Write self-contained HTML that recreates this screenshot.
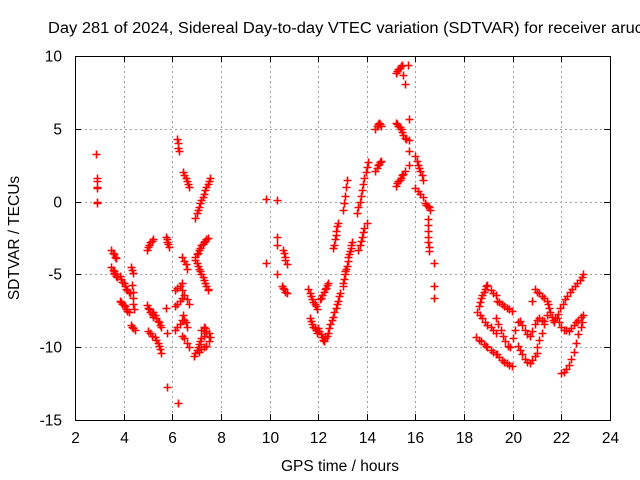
<!DOCTYPE html>
<html><head><meta charset="utf-8"><style>
body{margin:0;background:#fff}
svg{display:block;font-family:"Liberation Sans",sans-serif;font-size:15.5px}
</style></head><body>
<svg id="chart" width="640" height="480" viewBox="0 0 640 480">
<rect width="640" height="480" fill="#fff"/>
<text x="48" y="33" fill="#000" textLength="595" lengthAdjust="spacingAndGlyphs">Day 281 of 2024, Sidereal Day-to-day VTEC variation (SDTVAR) for receiver aruc</text>
<g id="grid"></g>
<g id="ticks"></g>
<g id="marks"></g>
<rect x="75.5" y="56.5" width="535" height="364" fill="none" stroke="#000"/>
<text x="340" y="471" text-anchor="middle">GPS time / hours</text>
<text transform="translate(19,238) rotate(-90)" text-anchor="middle">SDTVAR / TECUs</text>
</svg>
<script>
const xTicks=[2,4,6,8,10,12,14,16,18,20,22,24];
const yTicks=[10,5,0,-5,-10,-15];
const trackT=[
[2.88,2.9,2.9,2.92,2.9,2.92,2.9],
[3.5,3.55,3.6,3.65,3.7],
[3.5,3.55,3.6,3.62,3.65,3.7,3.72],
[3.85,3.9,3.95,4.0,4.05,4.1,4.15,4.2,4.25],
[4.3,4.35,4.4],
[4.35,4.38,4.4,4.4,4.42],
[3.85,3.9,3.95,4.0,4.05,4.1,4.15,4.2],
[4.3,4.35,4.4,4.45],
[4.95,5.0,5.05,5.1,5.15,5.2],
[5.75,5.78,5.8,5.82,5.85],
[4.95,5.0,5.05,5.1,5.15,5.2],
[5.2,5.3,5.35,5.4,5.45,5.5,5.55],
[5.0,5.1,5.15],
[5.3,5.35,5.4,5.45,5.5,5.55],
[5.75,5.8,5.8,6.25],
[6.2,6.22,6.25,6.28],
[6.45,6.5,6.55,6.6,6.65,6.7],
[6.95,7.0,7.05,7.1,7.15,7.2,7.25,7.3,7.35,7.4,7.45,7.5,7.55],
[6.1,6.2,6.3,6.4],
[6.4,6.5,6.55,6.6],
[6.4,6.5,6.6,6.7],
[6.1,6.2,6.3,6.4],
[6.1,6.2,6.3,6.4],
[6.45,6.5,6.55,6.6],
[6.4,6.5,6.6,6.7],
[6.93,7.0,7.05,7.1,7.15,7.2,7.25,7.3,7.35,7.4,7.47],
[6.95,7.0,7.05,7.1,7.15,7.2,7.25,7.3,7.35,7.4,7.45,7.47],
[6.9,6.95,7.0,7.05,7.1,7.15,7.2,7.3,7.4,7.5,7.55,7.5,7.4,7.3,7.2,7.1],
[7.2,7.3,7.35,7.4],
[9.84,10.29,9.84,10.29,10.29,10.29],
[10.55,10.6,10.62,10.65,10.7],
[10.5,10.55,10.6,10.65,10.7],
[11.6,11.65,11.7,11.75,11.8,11.85,11.9,11.95],
[11.65,11.7,11.75,11.8,11.85,11.9,11.95],
[12.07,12.12,12.17,12.22,12.27,12.32,12.37,12.4],
[12.0,12.05,12.1,12.15,12.2,12.25,12.3,12.35,12.4,12.45,12.5],
[12.57,12.62,12.67,12.72,12.77,12.82,12.87,12.9],
[12.6,12.65,12.7,12.72,12.75,12.78,12.8],
[13.0,13.03,13.06,13.09,13.12,13.15,13.18,13.21,13.24,13.27,13.3,13.33,13.36,13.4],
[13.0,13.05,13.1,13.15,13.2],
[13.6,13.65,13.7,13.75,13.8,13.85,13.9,13.95,14.0,14.05],
[13.65,13.7,13.75,13.8,13.85,13.9,14.0],
[14.35,14.4,14.45,14.5,14.55,14.6],
[14.35,14.4,14.45,14.5,14.55,14.6],
[15.2,15.25,15.3,15.35,15.4,15.45,15.5,15.55],
[15.2,15.25,15.3,15.35,15.4,15.45,15.5,15.55,15.6],
[15.2,15.25,15.3,15.35,15.4,15.45,15.5,15.55],
[15.7,15.72,15.72,15.72,15.72],
[16.0,16.05,16.1,16.15,16.2,16.25,16.3],
[16.0,16.1,16.2,16.3],
[16.4,16.45,16.5,16.55,16.6],
[16.5,16.5,16.52,16.52,16.52,16.55,16.55],
[16.76,16.76,16.76],
[18.6,18.65,18.7,18.75,18.8,18.85,18.9,18.95],
[19.1,19.2,19.3],
[19.35,19.45,19.55,19.65,19.75,19.85,19.95],
[18.55,18.65,18.75,18.85,18.95],
[19.1,19.2,19.3],
[18.5,18.6,18.7,18.8,18.9,18.95],
[19.1,19.2,19.3],
[19.35,19.45,19.55,19.65,19.75,19.85,19.95],
[19.3,19.4,19.5,19.6,19.7,19.8,19.9,20.0,20.1,20.2,20.3,20.4,20.5,20.6,20.7,20.8,20.9,21.0,21.1,21.2,21.3],
[20.2,20.3,20.4,20.5,20.6,20.7,20.8,20.9,21.0],
[20.9,21.0,21.1,21.2,21.3,21.4,21.45],
[20.8],
[21.0,21.1,21.2,21.3,21.4],
[21.5,21.55,21.6,21.65,21.7],
[21.75,21.85,21.95,22.05,22.15,22.25,22.35,22.45,22.55,22.65,22.75,22.85,22.9],
[21.8,21.9,22.0,22.1,22.2,22.3,22.4,22.5,22.6,22.7,22.8,22.9],
[22.0,22.1,22.2,22.3,22.4,22.5,22.6,22.7,22.8,22.85]
];
const trackV=[
[3.3,1.6,1.4,1.0,0.9,0.0,-0.1],
[-3.3,-3.5,-3.6,-3.8,-3.9],
[-4.5,-4.7,-4.8,-4.9,-5.0,-5.1,-5.2],
[-5.1,-5.3,-5.5,-5.6,-5.8,-6.0,-6.1,-6.2,-6.3],
[-4.5,-4.7,-4.9],
[-5.7,-6.2,-6.6,-7.0,-7.4],
[-6.8,-6.9,-7.0,-7.1,-7.2,-7.4,-7.5,-7.6],
[-8.5,-8.6,-8.7,-8.8],
[-3.3,-3.1,-3.0,-2.8,-2.7,-2.6],
[-2.4,-2.6,-2.8,-2.9,-3.1],
[-7.1,-7.3,-7.4,-7.6,-7.7,-7.9],
[-7.6,-7.8,-8.0,-8.2,-8.3,-8.5,-8.6],
[-8.9,-9.0,-9.2],
[-9.3,-9.5,-9.7,-9.9,-10.1,-10.4],
[-7.3,-9.0,-12.7,-13.8],
[4.3,4.0,3.7,3.5],
[2.0,1.8,1.6,1.4,1.2,1.0],
[-1.1,-0.8,-0.6,-0.4,-0.1,0.1,0.3,0.5,0.8,1.0,1.2,1.4,1.6],
[-6.1,-5.9,-5.8,-5.6],
[-3.8,-4.1,-4.3,-4.6],
[-6.1,-6.4,-6.7,-7.0],
[-7.2,-7.0,-6.8,-6.6],
[-8.8,-8.6,-8.4,-8.1],
[-7.8,-8.1,-8.3,-8.6],
[-9.2,-9.4,-9.7,-10.0],
[-3.8,-3.6,-3.5,-3.3,-3.2,-3.0,-2.9,-2.8,-2.7,-2.6,-2.5],
[-4.0,-4.2,-4.4,-4.6,-4.8,-5.0,-5.2,-5.4,-5.6,-5.8,-6.0,-6.1],
[-10.6,-10.4,-10.2,-10.0,-9.8,-9.6,-9.4,-9.2,-9.0,-9.0,-9.3,-9.6,-9.9,-10.0,-10.1,-10.3],
[-8.8,-8.6,-8.7,-8.9],
[0.2,0.1,-4.2,-2.4,-3.0,-5.0],
[-3.3,-3.5,-3.8,-4.0,-4.3],
[-5.8,-5.9,-6.0,-6.2,-6.3],
[-6.0,-6.3,-6.5,-6.7,-6.9,-7.0,-7.2,-7.4],
[-8.0,-8.2,-8.4,-8.6,-8.7,-8.8,-9.0],
[-6.7,-6.6,-6.4,-6.2,-6.0,-5.9,-5.7,-5.6],
[-8.7,-8.9,-9.1,-9.3,-9.5,-9.6,-9.4,-9.2,-9.0,-8.7,-8.4],
[-8.1,-7.9,-7.6,-7.3,-7.0,-6.8,-6.5,-6.3],
[-3.2,-3.0,-2.6,-2.3,-2.0,-1.7,-1.5],
[-5.8,-5.6,-5.3,-5.0,-4.8,-4.6,-4.4,-4.1,-3.8,-3.6,-3.4,-3.2,-3.0,-2.8],
[-0.6,-0.1,0.4,1.0,1.5],
[-0.8,-0.4,0.0,0.4,0.8,1.2,1.6,2.0,2.4,2.7],
[-3.3,-3.0,-2.7,-2.4,-2.1,-1.8,-1.5],
[5.0,5.2,5.3,5.4,5.3,5.2],
[2.1,2.3,2.5,2.6,2.7,2.8],
[8.8,9.0,9.1,9.2,9.3,9.4,8.7,8.1],
[5.4,5.3,5.2,5.1,5.0,4.8,4.6,4.4,4.3],
[1.1,1.3,1.4,1.5,1.6,1.8,1.9,2.1],
[9.4,5.7,4.2,3.5,2.5],
[3.1,2.8,2.5,2.3,2.1,1.8,1.5],
[0.9,0.7,0.5,0.3],
[-0.1,-0.2,-0.3,-0.4,-0.6],
[-1.2,-1.6,-2.0,-2.4,-2.8,-3.1,-3.4],
[-4.2,-5.8,-6.6],
[-7.2,-6.9,-6.6,-6.4,-6.2,-6.0,-5.8,-5.7],
[-6.1,-6.3,-6.4],
[-6.8,-6.9,-7.0,-7.2,-7.3,-7.4,-7.5],
[-7.6,-7.8,-8.0,-8.3,-8.5],
[-8.6,-8.8,-9.0],
[-9.3,-9.5,-9.6,-9.8,-9.9,-10.0],
[-10.2,-10.3,-10.5],
[-10.5,-10.7,-10.9,-11.0,-11.1,-11.2,-11.3],
[-8.0,-8.4,-8.8,-9.2,-9.6,-9.9,-10.0,-9.4,-8.8,-8.3,-8.2,-8.5,-8.8,-9.1,-9.2,-8.9,-8.4,-8.1,-8.0,-8.1,-8.2],
[-9.9,-10.2,-10.5,-10.8,-11.0,-11.1,-10.9,-10.6,-10.4],
[-6.0,-6.2,-6.3,-6.5,-6.6,-6.8,-7.0],
[-6.8],
[-10.0,-9.5,-9.0,-8.4,-7.8],
[-7.3,-7.6,-7.9,-8.1,-8.3],
[-8.0,-7.7,-7.3,-7.0,-6.7,-6.5,-6.2,-6.0,-5.8,-5.6,-5.4,-5.2,-5.0],
[-8.0,-8.3,-8.6,-8.8,-8.8,-8.9,-8.7,-8.5,-8.3,-8.1,-7.9,-7.8],
[-11.8,-11.7,-11.5,-11.2,-10.8,-10.3,-9.7,-9.1,-8.6,-8.3]
];
const X0=75,X1=610,Y0=56,Y1=420,xmin=2,xmax=24,ymin=-15,ymax=10;
function sx(t){return X0+(t-xmin)/(xmax-xmin)*(X1-X0);}
function sy(v){return Y1-(v-ymin)/(ymax-ymin)*(Y1-Y0);}
const NS="http://www.w3.org/2000/svg";
const grid=document.getElementById('grid'),ticks=document.getElementById('ticks'),marks=document.getElementById('marks');
function mk(tag,attrs,parent){const e=document.createElementNS(NS,tag);for(const k in attrs)e.setAttribute(k,attrs[k]);parent.appendChild(e);return e;}
xTicks.forEach(t=>{
  const x=Math.round(sx(t))+0.5;
  if(t>xmin&&t<xmax){const g=mk('line',{x1:x,x2:x,y1:Y0,y2:Y1,stroke:'#a0a0a0','stroke-dasharray':'2,3'},grid);
  
  }
  const tk=mk('path',{d:`M${x},${Y1}v-6M${x},${Y0}v6`,stroke:'#000'},ticks);
  
  
  const l=mk('text',{x:x,y:443,'text-anchor':'middle'},ticks);l.textContent=t;
  
  
});
yTicks.forEach(v=>{
  const y=Math.round(sy(v))+0.5;
  if(v>ymin&&v<ymax){const g=mk('line',{x1:X0,x2:X1,y1:y,y2:y,stroke:'#a0a0a0','stroke-dasharray':'2,3'},grid);
  
  }
  const tk=mk('path',{d:`M${X0},${y}h6M${X1},${y}h-6`,stroke:'#000'},ticks);
  
  
  const l=mk('text',{x:62,y:y+5,'text-anchor':'end'},ticks);l.textContent=v;
  
  
});
let d='';
trackT.forEach((ts,i)=>{ts.forEach((t,j)=>{const x=Math.round(sx(t))+0.5,y=Math.round(sy(trackV[i][j]))+0.5;d+=`M${x-4},${y}h8M${x},${y-4}v8`;});});
const p=mk('path',{d:d,stroke:'#ff0000','stroke-width':1.6,fill:'none'},marks);


</script>
</body></html>
